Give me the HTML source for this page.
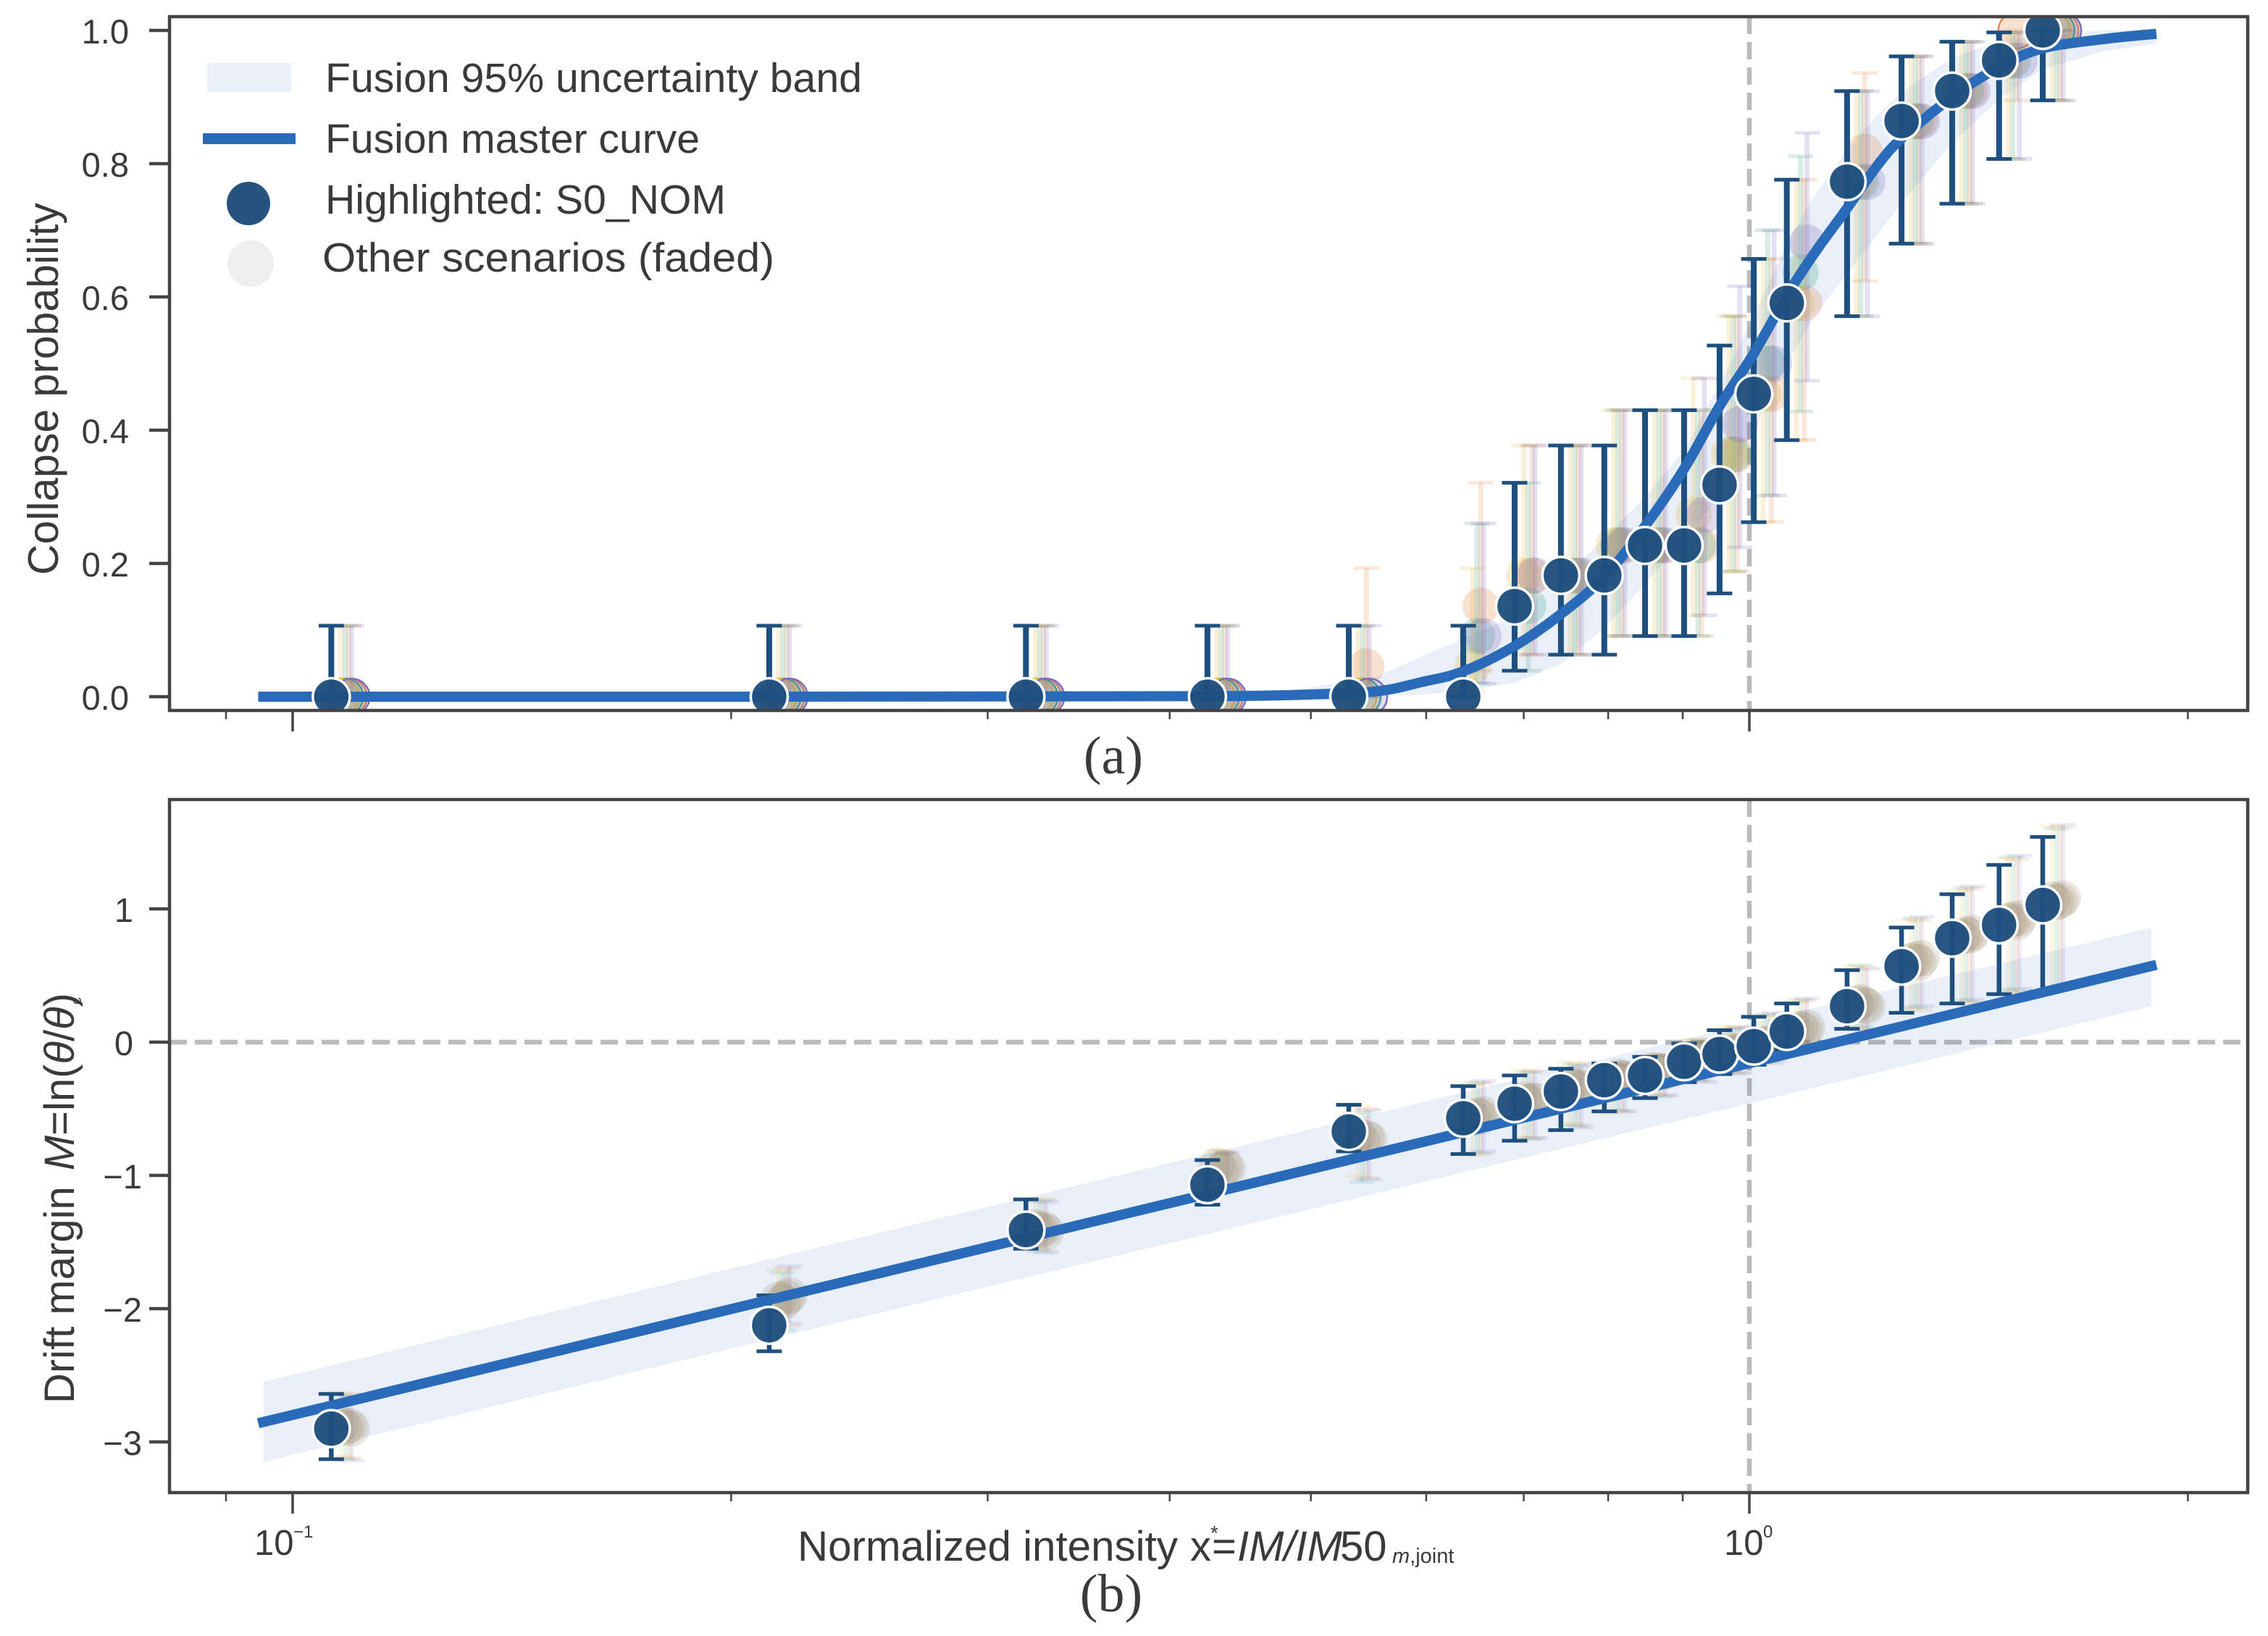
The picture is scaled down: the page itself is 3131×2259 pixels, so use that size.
<!DOCTYPE html>
<html lang="en">
<head>
<meta charset="utf-8">
<title>Collapse probability and drift margin vs normalized intensity</title>
<style>
html,body{margin:0;padding:0;background:#fff;}
svg{display:block;}
text{font-family:"Liberation Sans",sans-serif;fill:#3a3a3a;}
.serif{font-family:"Liberation Serif",serif;}
</style>
</head>
<body>
<svg id="chart" xmlns="http://www.w3.org/2000/svg" width="3131" height="2259" viewBox="0 0 3131 2259">
  <defs>
    <clipPath id="clip-top"><rect x="234" y="23" width="2869" height="958"/></clipPath>
    <clipPath id="clip-bottom"><rect x="234" y="1104" width="2869" height="957"/></clipPath>
  </defs>
  <rect x="0" y="0" width="3131" height="2259" fill="#ffffff"/>

  <g id="top-plot" clip-path="url(#clip-top)"></g>
  <g id="bottom-plot" clip-path="url(#clip-bottom)"></g>

  <rect x="234" y="23" width="2869" height="958" fill="none" stroke="#444444" stroke-width="4.5"/>
  <rect x="234" y="1104" width="2869" height="957" fill="none" stroke="#444444" stroke-width="4.5"/>
  <g id="axis-layer"></g>

  <text transform="translate(80,537) rotate(-90)" text-anchor="middle" font-size="59" textLength="514" lengthAdjust="spacingAndGlyphs">Collapse probability</text>
  <text transform="translate(102,1938) rotate(-90)" font-size="58">Drift margin <tspan font-style="italic" dx="6">M</tspan>=ln(<tspan font-style="italic">θ</tspan>/<tspan font-style="italic">θ</tspan>)<tspan font-size="20" dx="-16" dy="10">c</tspan></text>

  <text font-size="58" y="2155"><tspan x="1101" textLength="525" lengthAdjust="spacingAndGlyphs">Normalized intensity</tspan><tspan x="1643">x</tspan><tspan x="1673">=</tspan><tspan x="1708" font-style="italic">IM/IM</tspan><tspan x="1850">50</tspan></text>
  <text font-size="28" x="1671" y="2126">*</text>
  <text font-size="29" y="2158"><tspan x="1922" font-style="italic">m</tspan><tspan>,joint</tspan></text>

  <text class="serif" x="1537" y="1068" text-anchor="middle" font-size="74">(a)</text>
  <text class="serif" x="1534" y="2225" text-anchor="middle" font-size="74">(b)</text>

  <g>
    <rect x="286" y="87" width="116" height="40" fill="#e9eff8"/>
    <text x="449" y="127" font-size="57" textLength="741" lengthAdjust="spacingAndGlyphs">Fusion 95% uncertainty band</text>
    <rect x="280" y="184" width="128" height="15" fill="#2a6bb9"/>
    <text x="449" y="211" font-size="57" textLength="517" lengthAdjust="spacingAndGlyphs">Fusion master curve</text>
    <circle cx="343" cy="281" r="30" fill="#27547f"/>
    <text x="449" y="295" font-size="57" textLength="553" lengthAdjust="spacingAndGlyphs">Highlighted: S0_NOM</text>
    <circle cx="346" cy="364" r="32" fill="#eeeeee"/>
    <text x="445" y="375" font-size="57" textLength="624" lengthAdjust="spacingAndGlyphs">Other scenarios (faded)</text>
  </g>
</svg>

<script>
/* ---------- shared intensity levels (normalized x) ---------- */
const intensityLevels = [0.1063, 0.2124, 0.3187, 0.4246, 0.5309, 0.6362, 0.690, 0.7424, 0.7951, 0.848, 0.902, 0.954, 1.007, 1.061, 1.167, 1.272, 1.378, 1.484, 1.590];

/* ---------- panel (a): master curve ---------- */
const curveX   = [0.0947, 0.2124, 0.3508, 0.441, 0.4945, 0.5545, 0.5958, 0.6362, 0.690, 0.7424, 0.7951, 0.848, 0.902, 0.954, 1.007, 1.061, 1.107, 1.167, 1.223, 1.272, 1.378, 1.484, 1.590, 1.752, 1.903];
const curveP   = [0, 0, 0.0005, 0.001, 0.003, 0.008, 0.022, 0.038, 0.076, 0.124, 0.18, 0.256, 0.342, 0.436, 0.515, 0.602, 0.664, 0.733, 0.796, 0.838, 0.90, 0.945, 0.973, 0.987, 0.995];
const bandPHi  = [0, 0, 0.001, 0.004, 0.012, 0.03, 0.06, 0.087, 0.122, 0.176, 0.238, 0.30, 0.37, 0.47, 0.57, 0.68, 0.75, 0.82, 0.872, 0.907, 0.959, 0.983, 0.994, 1.0, 1.0];
const bandPLo  = [0, 0, 0, 0, 0, 0.001, 0.003, 0.008, 0.021, 0.049, 0.103, 0.169, 0.238, 0.30, 0.40, 0.50, 0.57, 0.635, 0.692, 0.741, 0.831, 0.897, 0.942, 0.969, 0.98];

/* ---------- panel (a): highlighted scenario S0_NOM ---------- */
const s0Prob   = [0, 0, 0, 0, 0, 0, 0.136, 0.182, 0.182, 0.227, 0.227, 0.318, 0.4545, 0.591, 0.773, 0.864, 0.909, 0.955, 1.0];
const s0ProbHi = [0.1065, 0.1065, 0.1065, 0.1065, 0.1065, 0.1065, 0.321, 0.377, 0.377, 0.430, 0.430, 0.527, 0.657, 0.776, 0.909, 0.961, 0.983, 0.997, 1.0];
const s0ProbLo = [0, 0, 0, 0, 0, 0, 0.039, 0.063, 0.063, 0.091, 0.091, 0.155, 0.262, 0.385, 0.571, 0.68, 0.74, 0.807, 0.895];

/* ---------- panel (a): other scenarios (collapse counts out of 22) ---------- */
const countOrange = [0, 0, 0, 0, 1, 3, 4, 4, 5, 5, 5, 8, 10, 13, 18, 19, 20, 22, 22];
const countGreen  = [0, 0, 0, 0, 0, 2, 3, 4, 5, 5, 5, 8, 11, 14, 17, 19, 20, 21, 22];
const countGold   = [0, 0, 0, 0, 0, 1, 4, 4, 5, 5, 6, 8, 10, 13, 17, 19, 20, 21, 22];
const countPurple = [0, 0, 0, 0, 0, 2, 4, 4, 5, 5, 6, 9, 11, 15, 17, 19, 20, 21, 22];
const trialsPerLevel = 22;
const countCiHi = [0.1065, 0.193, 0.26, 0.321, 0.377, 0.43, 0.478, 0.527, 0.571, 0.616, 0.657, 0.70, 0.74, 0.776, 0.811, 0.846, 0.88, 0.909, 0.936, 0.961, 0.983, 0.997, 1.0];
const countCiLo = [0, 0.008, 0.02, 0.039, 0.063, 0.091, 0.122, 0.155, 0.188, 0.224, 0.262, 0.302, 0.345, 0.385, 0.428, 0.474, 0.52, 0.571, 0.624, 0.68, 0.74, 0.807, 0.895];

/* ---------- panel (b): master line and band ---------- */
const lineX   = [0.0947, 0.2124, 0.4245, 1.0, 1.903];
const lineM   = [-2.86, -1.934, -1.14, -0.158, 0.58];
const lineBandX  = [0.0955, 0.2124, 0.4245, 1.0, 1.888];
const lineBandHi = [-2.55, -1.63, -0.84, 0.14, 0.86];
const lineBandLo = [-3.15, -2.23, -1.44, -0.46, 0.27];

/* ---------- panel (b): highlighted scenario S0_NOM ---------- */
const s0Margin   = [-2.90, -2.125, -1.41, -1.07, -0.67, -0.571, -0.462, -0.37, -0.285, -0.25, -0.147, -0.09, -0.03, 0.08, 0.27, 0.57, 0.78, 0.88, 1.03];
const s0MarginHi = [-2.64, -1.90, -1.18, -0.885, -0.47, -0.33, -0.25, -0.20, -0.16, -0.11, -0.01, 0.09, 0.19, 0.29, 0.54, 0.86, 1.11, 1.33, 1.54];
const s0MarginLo = [-3.13, -2.32, -1.55, -1.22, -0.82, -0.84, -0.74, -0.66, -0.52, -0.42, -0.30, -0.24, -0.17, -0.06, 0.10, 0.22, 0.29, 0.36, 0.38];

/* ---------- panel (b): other scenarios ---------- */
const marginOrange = [-2.88, -1.92, -1.40, -0.94, -0.72, -0.56, -0.44, -0.33, -0.27, -0.22, -0.12, -0.07, -0.02, 0.09, 0.28, 0.60, 0.80, 0.90, 1.06];
const marginGreen  = [-2.89, -1.95, -1.41, -0.96, -0.75, -0.55, -0.45, -0.34, -0.26, -0.23, -0.13, -0.08, -0.01, 0.10, 0.30, 0.62, 0.81, 0.92, 1.05];
const marginGold   = [-2.87, -1.93, -1.39, -0.93, -0.70, -0.57, -0.43, -0.32, -0.28, -0.21, -0.12, -0.06, -0.02, 0.08, 0.29, 0.61, 0.79, 0.91, 1.07];
const marginPurple = [-2.90, -1.90, -1.42, -0.95, -0.73, -0.54, -0.44, -0.35, -0.27, -0.22, -0.14, -0.07, 0.00, 0.11, 0.27, 0.63, 0.82, 0.93, 1.08];
const marginErrUp   = [0.24, 0.22, 0.22, 0.12, 0.22, 0.25, 0.22, 0.17, 0.10, 0.12, 0.14, 0.18, 0.22, 0.22, 0.28, 0.31, 0.35, 0.47, 0.55];
const marginErrDown = [0.24, 0.21, 0.16, 0.16, 0.30, 0.28, 0.28, 0.29, 0.25, 0.18, 0.16, 0.16, 0.14, 0.15, 0.18, 0.36, 0.50, 0.53, 0.66];

/* ---------- scenario x multipliers (each scenario's own IM50 scaling) ---------- */
const shiftOrange = 1.0280;
const shiftGreen  = 1.0220;
const shiftGold   = 1.0150;
const shiftPurple = 1.0326;

/* ---------- ticks ---------- */
const xMajorTicks = [0.1, 1];
const xMinorTicks = [0.09, 0.2, 0.3, 0.4, 0.5, 0.6, 0.7, 0.8, 0.9, 2];
const topYTicks = [0, 0.2, 0.4, 0.6, 0.8, 1.0];
const topYLabels = ['0.0', '0.2', '0.4', '0.6', '0.8', '1.0'];
const bottomYTicks = [-3, -2, -1, 0, 1];
const bottomYLabels = ['\u22123', '\u22122', '\u22121', '0', '1'];

/* ---------- axis functions ---------- */
function xScale(v) { return 2415 + 2011 * Math.log10(v); }
function topY(v) { return 962 - 920 * v; }
function bottomY(v) { return 1439 - 184 * v; }

const NS = 'http://www.w3.org/2000/svg';
const topPlot = document.getElementById('top-plot');
const bottomPlot = document.getElementById('bottom-plot');
const axisLayer = document.getElementById('axis-layer');

function makeLine(parent, x1, y1, x2, y2, color, width, opacity) {
  const el = document.createElementNS(NS, 'line');
  el.setAttribute('x1', x1);
  el.setAttribute('y1', y1);
  el.setAttribute('x2', x2);
  el.setAttribute('y2', y2);
  el.setAttribute('stroke', color);
  el.setAttribute('stroke-width', width);
  el.setAttribute('stroke-opacity', opacity);
  parent.appendChild(el);
  return el;
}
function makePath(parent, d, fill, stroke, width) {
  const el = document.createElementNS(NS, 'path');
  el.setAttribute('d', d);
  el.setAttribute('fill', fill);
  el.setAttribute('stroke', stroke);
  el.setAttribute('stroke-width', width);
  parent.appendChild(el);
  return el;
}
function makeCircle(parent, cx, cy, r, fill, fillOpacity) {
  const el = document.createElementNS(NS, 'circle');
  el.setAttribute('cx', cx);
  el.setAttribute('cy', cy);
  el.setAttribute('r', r);
  el.setAttribute('fill', fill);
  el.setAttribute('fill-opacity', fillOpacity);
  parent.appendChild(el);
  return el;
}
function makeText(parent, x, y, str, size, anchor) {
  const el = document.createElementNS(NS, 'text');
  el.setAttribute('x', x);
  el.setAttribute('y', y);
  el.setAttribute('font-size', size);
  el.setAttribute('text-anchor', anchor);
  el.textContent = str;
  parent.appendChild(el);
  return el;
}
/* smooth path through pixel points (Catmull-Rom) */
function smoothD(pts) {
  let d = 'M' + pts[0][0] + ' ' + pts[0][1];
  for (let i = 0; i < pts.length - 1; i++) {
    const p0 = pts[Math.max(0, i - 1)], p1 = pts[i], p2 = pts[i + 1], p3 = pts[Math.min(pts.length - 1, i + 2)];
    const c1x = p1[0] + (p2[0] - p0[0]) / 6, c1y = p1[1] + (p2[1] - p0[1]) / 6;
    const c2x = p2[0] - (p3[0] - p1[0]) / 6, c2y = p2[1] - (p3[1] - p1[1]) / 6;
    d += 'C' + c1x + ' ' + c1y + ' ' + c2x + ' ' + c2y + ' ' + p2[0] + ' ' + p2[1];
  }
  return d;
}
function polyD(xs, ys, yFn) {
  return xs.map(function (x, i) { return (i ? 'L' : 'M') + xScale(x) + ' ' + yFn(ys[i]); }).join('');
}
function bandD(xs, hi, lo, yFn) {
  let d = polyD(xs, hi, yFn);
  for (let i = xs.length - 1; i >= 0; i--) { d += 'L' + xScale(xs[i]) + ' ' + yFn(lo[i]); }
  return d + 'Z';
}
function pixelPoints(xs, ys, yFn) {
  return xs.map(function (x, i) { return [xScale(x), yFn(ys[i])]; });
}

/* reference lines */
const GREY = '#bbbbbb';
const refTop = makeLine(topPlot, xScale(1), 23, xScale(1), 981, GREY, 6.5, 1);
refTop.setAttribute('stroke-dasharray', '24 11');


const refBottomV = makeLine(bottomPlot, xScale(1), 1104, xScale(1), 2061, GREY, 6.5, 1);
refBottomV.setAttribute('stroke-dasharray', '24 11');


const refBottomH = makeLine(bottomPlot, 234, bottomY(0), 3103, bottomY(0), GREY, 6.5, 1);
refBottomH.setAttribute('stroke-dasharray', '24 11');



/* bands */
const topBand = makePath(topPlot, bandD(curveX, bandPHi, bandPLo, topY), '#2a6bb9', 'none', 0);
topBand.setAttribute('fill-opacity', '0.105');


const bottomBand = makePath(bottomPlot, bandD(lineBandX, lineBandHi, lineBandLo, bottomY), '#2a6bb9', 'none', 0);
bottomBand.setAttribute('fill-opacity', '0.105');



/* faded scenarios */
const scenarioColors = ['#e08a4c', '#3fa77f', '#e2b53f', '#7e6bbd'];
const scenarioShifts = [shiftOrange, shiftGreen, shiftGold, shiftPurple];
const scenarioCounts = [countOrange, countGreen, countGold, countPurple];
const scenarioMargins = [marginOrange, marginGreen, marginGold, marginPurple];

function drawErrorBar(parent, x, yHi, yLo, color, stem, cap, opacity) {
  const barStem = makeLine(parent, x, yHi, x, yLo, color, stem, opacity);
  
  
  const capHi = makeLine(parent, x - 17.5, yHi, x + 17.5, yHi, color, cap, opacity);
  
  
  const capLo = makeLine(parent, x - 17.5, yLo, x + 17.5, yLo, color, cap, opacity);
  
  
}

scenarioCounts.forEach(function (counts, s) {
  const color = scenarioColors[s];
  counts.forEach(function (k, i) {
    const px = xScale(intensityLevels[i] * scenarioShifts[s]);
    drawErrorBar(topPlot, px, topY(countCiHi[k]), topY(countCiLo[k]), color, 7, 5, 0.2);
    const dot = makeCircle(topPlot, px, topY(k / trialsPerLevel), 25, color, 0.25);
    if (k === 0 || k === trialsPerLevel) {
      dot.setAttribute('stroke', color);
      dot.setAttribute('stroke-width', '2.5');
    }
    
    
  });
});
scenarioMargins.forEach(function (margins, s) {
  const color = scenarioColors[s];
  margins.forEach(function (m, i) {
    const px = xScale(intensityLevels[i] * scenarioShifts[s]);
    drawErrorBar(bottomPlot, px, bottomY(m + marginErrUp[i]), bottomY(m - marginErrDown[i]), color, 6, 5, 0.14);
    const dot = makeCircle(bottomPlot, px, bottomY(m), 25, '#a08a6a', 0.2);
    
    
  });
});

/* highlighted error bars go under the curve */
const NAVY = '#1f4f7e';
s0Prob.forEach(function (p, i) {
  drawErrorBar(topPlot, xScale(intensityLevels[i]), topY(s0ProbHi[i]), topY(s0ProbLo[i]), NAVY, 8, 5, 1);
});
s0Margin.forEach(function (m, i) {
  drawErrorBar(bottomPlot, xScale(intensityLevels[i]), bottomY(s0MarginHi[i]), bottomY(s0MarginLo[i]), NAVY, 6.5, 5, 1);
});

/* master curves */
const topCurve = makePath(topPlot, smoothD(pixelPoints(curveX, curveP, topY)), 'none', '#2a6bb9', 14);


const bottomCurve = makePath(bottomPlot, polyD(lineX, lineM, bottomY), 'none', '#2a6bb9', 14);



/* highlighted markers */
s0Prob.forEach(function (p, i) {
  const dot = makeCircle(topPlot, xScale(intensityLevels[i]), topY(p), 25.5, '#1f4f7e', 0.96);
  dot.setAttribute('stroke', '#ffffff');
  dot.setAttribute('stroke-width', '3.5');
  
  
});
s0Margin.forEach(function (m, i) {
  const dot = makeCircle(bottomPlot, xScale(intensityLevels[i]), bottomY(m), 25.5, '#1f4f7e', 0.96);
  dot.setAttribute('stroke', '#ffffff');
  dot.setAttribute('stroke-width', '3.5');
  
  
});

/* x ticks on both panels */
[[981, 'top'], [2061, 'bottom']].forEach(function (axis) {
  xMajorTicks.forEach(function (v) {
    const tick = makeLine(axisLayer, xScale(v), axis[0], xScale(v), axis[0] + 29, '#444444', 3.5, 1);
    
    
  });
  xMinorTicks.forEach(function (v) {
    const tick = makeLine(axisLayer, xScale(v), axis[0], xScale(v), axis[0] + 12, '#444444', 2.5, 1);
    
    
  });
});

/* x tick labels with superscript exponents */
const tenMinus = makeText(axisLayer, 351, 2147, '10', 49, 'start');


const tenMinusExp = makeText(axisLayer, 405, 2123, '\u22121', 24, 'start');


const tenZero = makeText(axisLayer, 2380, 2147, '10', 49, 'start');


const tenZeroExp = makeText(axisLayer, 2434, 2123, '0', 24, 'start');



/* y ticks */
topYTicks.forEach(function (v, i) {
  const tick = makeLine(axisLayer, 206, topY(v), 234, topY(v), '#444444', 4.5, 1);
  
  
  const label = makeText(axisLayer, 178, topY(v) + 18, topYLabels[i], 47, 'end');
  
  
});
bottomYTicks.forEach(function (v, i) {
  const tick = makeLine(axisLayer, 206, bottomY(v), 234, bottomY(v), '#444444', 4.5, 1);
  
  
  const label = makeText(axisLayer, v < 0 ? 196 : 184, bottomY(v) + 18, bottomYLabels[i], 47, 'end');
  
  
});
</script>
</body>
</html>
